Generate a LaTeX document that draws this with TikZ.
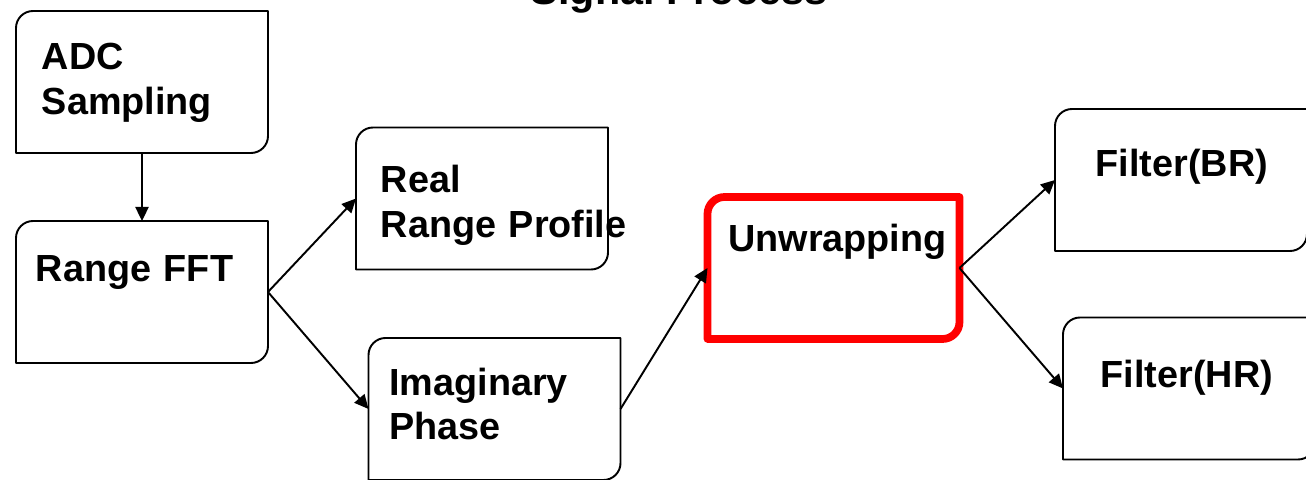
\documentclass[tikz,border=0pt]{standalone}
\usepackage{fontspec}
\setmainfont{Liberation Sans}
\usepackage{tikz}
\usetikzlibrary{arrows.meta}

\definecolor{hotred}{RGB}{255,0,0}

\newcommand{\cornerr}{0.34cm}
% frame with rounded top-left and bottom-right corners only
\newcommand{\stageframe}[2][]{%
    \draw[frame, #1] ([xshift=\cornerr]#2.north west) -- (#2.north east)
        -- ([yshift=\cornerr]#2.south east)
        arc[start angle=0, end angle=-90, radius=\cornerr]
        -- (#2.south west) -- ([yshift=-\cornerr]#2.north west)
        arc[start angle=180, end angle=90, radius=\cornerr] -- cycle;}

\tikzset{
    stage/.style={rectangle, minimum width=5.04cm, minimum height=2.84cm, inner sep=0pt, outer sep=0pt},
    frame/.style={draw=black, line width=1.1pt, line join=round},
    hotframe/.style={draw=hotred, line width=4.4pt},
    stagetext/.style={anchor=base west, inner sep=0pt, text width=5cm, align=left,
        font=\bfseries\fontsize{21.5}{25.6}\selectfont},
    headline/.style={anchor=base, inner sep=0pt, font=\bfseries\fontsize{23.5}{28}\selectfont},
    flow/.style={-{Triangle[length=8pt, width=7.5pt]}, line width=1.1pt}
}

\begin{document}
\begin{tikzpicture}
    \useasboundingbox (0,0) rectangle (26.12,9.58);

    % ---------- heading ----------
    \node[headline] (heading) at (13.58,9.48) {Signal Process};

    % ---------- left column ----------
    \node[stage] (adc) at (2.84,7.94) {};
    \node[stage] (fft) at (2.84,3.74) {};
    \stageframe{adc}
    \stageframe{fft}
    \node[stagetext] (adctext) at ([xshift=0.51cm, yshift=-1.18cm]adc.north west) {ADC\\Sampling};
    \node[stagetext] (ffttext) at ([xshift=0.39cm, yshift=-1.22cm]fft.north west) {Range FFT};

    % ---------- real / imaginary ----------
    \node[stage] (real) at (9.64,5.61) {};
    \node[stage] (imag) at (9.89,1.40) {};
    \stageframe{real}
    \stageframe{imag}
    \node[stagetext] (realtext) at ([xshift=0.49cm, yshift=-1.30cm]real.north west) {Real\\Range Profile};
    \node[stagetext] (imagtext) at ([xshift=0.41cm, yshift=-1.14cm]imag.north west) {Imaginary\\Phase};

    % ---------- unwrapping ----------
    \node[stage] (unwrap) at (16.67,4.22) {};
    \stageframe[hotframe]{unwrap}
    \node[stagetext] (unwraptext) at ([xshift=0.41cm, yshift=-1.10cm]unwrap.north west) {Unwrapping};

    % ---------- filters ----------
    \node[stage] (br) at (23.62,5.98) {};
    \node[stage] (hr) at (23.78,1.81) {};
    \stageframe{br}
    \stageframe{hr}
    \node[stagetext] (brtext) at ([xshift=0.81cm, yshift=-1.36cm]br.north west) {Filter(BR)};
    \node[stagetext] (hrtext) at ([xshift=0.75cm, yshift=-1.40cm]hr.north west) {Filter(HR)};

    % ---------- arrows ----------
    \draw[flow] (adc) -- (fft);
    \draw[flow] (fft.east) -- (real.west);
    \draw[flow] (fft.east) -- (imag.west);
    \draw[flow] (imag.east) -- (unwrap.west);
    \draw[flow] (unwrap.east) -- (br.west);
    \draw[flow] (unwrap.east) -- (hr.west);
\end{tikzpicture}
\end{document}
